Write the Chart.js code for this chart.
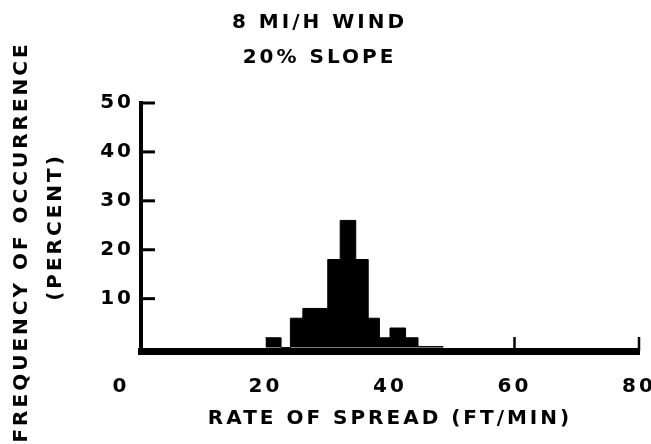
<!DOCTYPE html>
<html>
<head>
<meta charset="utf-8">
<script src="https://cdn.jsdelivr.net/npm/chart.js@4/dist/chart.umd.min.js"></script>
<style>
  html, body { margin: 0; padding: 0; background: #fff; }
  #wrap { width: 651px; height: 444px; }
</style>
</head>
<body>
<div id="wrap"><canvas id="spreadChart"></canvas></div>
<script>
// Histogramm: linke Klassengrenze und Häufigkeit (%) je Klasse
const binStart = [20, 22.5, 24, 26, 30, 32, 34.5, 36.5, 38.3, 40, 42.5, 44.5];
const binValue = [2, 0, 6, 8, 18, 26, 18, 6, 2, 4, 2, 0.2];
const binEnd = 48.5;

const xTicks = [0, 20, 40, 60, 80];
const yTicks = [10, 20, 30, 40, 50];
const xMarks = [60, 80]; // kleine Striche nach oben

const titleLines = ['8 MI/H WIND', '20% SLOPE'];
const xTitle = 'RATE OF SPREAD (FT/MIN)';
const yTitle = ['FREQUENCY OF OCCURRENCE   ', '(PERCENT)'];

const FONT = "'DejaVu Sans', sans-serif";

// Punkte für die Stufenlinie
const points = binStart.map((x, i) => ({ x: x, y: binValue[i] }));
points.push({ x: binEnd, y: 0 });

// Striche innen an den Achsen zeichnen
const tickMarks = {
    id: 'tickMarks',
    beforeDraw(chart) {
        chart.ctx.letterSpacing = '3px';
    },
    afterDraw(chart) {
        const ctx = chart.ctx;
        const x = chart.scales.x, y = chart.scales.y;
        const area = chart.chartArea;
        ctx.save();
        ctx.strokeStyle = '#000';
        ctx.lineWidth = 3;
        yTicks.forEach(v => {
            const py = y.getPixelForValue(v);
            ctx.beginPath();
            ctx.moveTo(area.left, py);
            ctx.lineTo(area.left + 14, py);
            ctx.stroke();
        });
        ctx.lineWidth = 2.5;
        xMarks.forEach(v => {
            const px = x.getPixelForValue(v);
            ctx.beginPath();
            ctx.moveTo(px, area.bottom);
            ctx.lineTo(px, area.bottom - 14);
            ctx.stroke();
        });
        ctx.restore();
    }
};

// keine automatische Randpolsterung durch die Beschriftungen
const noPad = s => { s.paddingLeft = 0; s.paddingRight = 0; s.paddingTop = 0; s.paddingBottom = 0; };

new Chart(document.getElementById('spreadChart'), {
    type: 'line',
    data: {
        datasets: [{
            data: points,
            stepped: 'before',
            fill: 'origin',
            backgroundColor: '#000',
            borderColor: '#000',
            borderWidth: 1,
            pointRadius: 0
        }]
    },
    options: {
        responsive: true,
        maintainAspectRatio: false,
        animation: false,
        layout: { padding: { left: 0, right: 12, top: 0, bottom: 0 }, autoPadding: false },
        plugins: {
            legend: { display: false },
            tooltip: { enabled: false },
            title: {
                display: true,
                text: titleLines,
                color: '#000',
                font: { family: FONT, size: 20, weight: 'bold', lineHeight: 1.75 },
                padding: { top: 5, bottom: 28 }
            }
        },
        scales: {
            x: {
                type: 'linear',
                min: 0,
                max: 80,
                afterBuildTicks: s => { s.ticks = xTicks.map(v => ({ value: v })); },
                afterFit: s => { s.height = 93; noPad(s); },
                grid: { display: false },
                border: { display: true, color: '#000', width: 7 },
                ticks: {
                    color: '#000',
                    padding: 16,
                    maxRotation: 0,
                    font: { family: FONT, size: 20, weight: 'bold' },
                    callback: v => (v === 0 ? '0    ' : String(v))
                },
                title: {
                    display: true,
                    text: xTitle,
                    color: '#000',
                    font: { family: FONT, size: 20, weight: 'bold', lineHeight: 1.2 },
                    padding: { top: 0, bottom: 13 }
                }
            },
            y: {
                min: -0.7,
                max: 50,
                afterBuildTicks: s => { s.ticks = yTicks.map(v => ({ value: v })); },
                afterFit: s => { s.width = 141; noPad(s); },
                grid: { display: false, drawTicks: false },
                border: { display: true, color: '#000', width: 4 },
                ticks: {
                    color: '#000',
                    padding: 7,
                    font: { family: FONT, size: 20, weight: 'bold' }
                },
                title: {
                    display: true,
                    text: yTitle,
                    color: '#000',
                    font: { family: FONT, size: 20, weight: 'bold', lineHeight: 1.7 },
                    padding: { top: 5, bottom: 0 }
                }
            }
        }
    },
    plugins: [tickMarks]
});
</script>
</body>
</html>
